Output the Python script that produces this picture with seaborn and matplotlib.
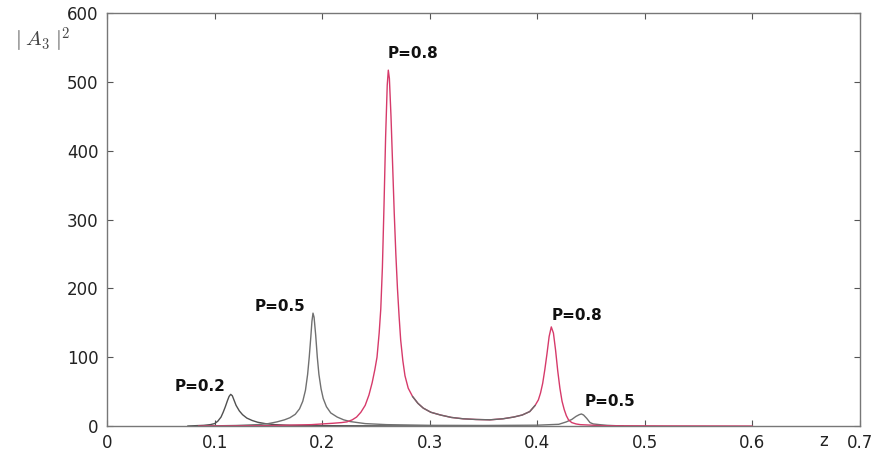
import matplotlib
matplotlib.use("Agg")
import matplotlib.pyplot as plt
import pandas as pd
import seaborn as sns
from matplotlib.ticker import FuncFormatter

# |A3|^2 along z for three pump levels P
z_p02 = [0.075, 0.090, 0.096, 0.100, 0.103, 0.106, 0.108, 0.110, 0.112, 0.1135,
         0.115, 0.1165, 0.118, 0.120, 0.123, 0.126, 0.130, 0.135, 0.140, 0.147,
         0.156, 0.170, 0.190, 0.220, 0.260, 0.310]
a_p02 = [0, 1, 2, 3.5, 7, 13, 20, 28, 37, 43,
         46, 44, 38, 30, 22, 16.5, 11.5, 8, 5.5, 3.5,
         2, 1, 0.6, 0.4, 0.2, 0]

z_p05 = [0.090, 0.120, 0.140, 0.150, 0.158, 0.165, 0.170, 0.175, 0.179, 0.182,
         0.1845, 0.1865, 0.188, 0.1895, 0.1905, 0.1915, 0.1925, 0.194, 0.1955, 0.197,
         0.199, 0.201, 0.204, 0.208, 0.214, 0.220, 0.226, 0.240, 0.260, 0.300,
         0.350, 0.400, 0.420, 0.427, 0.432, 0.436, 0.439, 0.441, 0.443, 0.446,
         0.449, 0.452, 0.458, 0.465, 0.480]
a_p05 = [0, 0.8, 2, 3.5, 6, 9, 12, 17, 25, 36,
         52, 75, 100, 130, 152, 164, 158, 132, 100, 75,
         54, 40, 28, 19, 13, 9, 6.5, 3.5, 2, 1,
         0.8, 1.2, 2.5, 6, 9.5, 14, 16.5, 17.5, 16, 11,
         5, 3, 2, 1, 0]

z_p08 = [0.085, 0.150, 0.190, 0.210, 0.218, 0.223, 0.228, 0.232, 0.236, 0.240,
         0.2435, 0.2465, 0.249, 0.251, 0.253, 0.2545, 0.256, 0.2575, 0.259, 0.2605,
         0.2615, 0.2625, 0.264, 0.2655, 0.267, 0.2685, 0.270, 0.2715, 0.273, 0.275,
         0.277, 0.280, 0.284, 0.289, 0.294, 0.301, 0.310, 0.320, 0.331, 0.343,
         0.356, 0.368, 0.378, 0.386, 0.393, 0.398, 0.401, 0.403, 0.405, 0.407,
         0.409, 0.411, 0.413, 0.415, 0.417, 0.419, 0.421, 0.423, 0.425, 0.427,
         0.429, 0.432, 0.436, 0.440, 0.460, 0.520, 0.600]
a_p08 = [0, 0.5, 2, 4, 5, 6, 9, 13, 20, 30,
         45, 63, 82, 100, 135, 170, 230, 320, 420, 495,
         517, 505, 450, 380, 310, 250, 200, 160, 125, 95,
         73, 55, 43, 33, 26, 20, 16, 12.5, 10.5, 9.5,
         9, 10.5, 13, 16, 21, 30, 38, 48, 62, 82,
         105, 130, 144, 135, 110, 80, 55, 36, 24, 15,
         9, 5, 3, 2, 0.5, 0.2, 0]

# peak labels: text, z, |A3|^2
label_text = ["P=0.2", "P=0.5", "P=0.8", "P=0.8", "P=0.5"]
label_z = [0.0865, 0.161, 0.2845, 0.437, 0.4676]
label_a = [58, 173, 541, 161, 35]

x_ticks = [0, 0.1, 0.2, 0.3, 0.4, 0.5, 0.6, 0.7]
y_ticks = [0, 100, 200, 300, 400, 500, 600]

sns.set_theme(style="white")
plt.rcParams['font.family'] = ['DejaVu Sans']

fig = plt.figure(figsize=(8.82, 4.55), dpi=100)
ax = fig.add_axes([0.1213, 0.0637, 0.8538, 0.9077])

red = "#d63a6a"
df02 = pd.DataFrame({"z": z_p02, "A": a_p02})
df05 = pd.DataFrame({"z": z_p05, "A": a_p05})
df08 = pd.DataFrame({"z": z_p08, "A": a_p08})

sns.lineplot(data=df02, x="z", y="A", color="#505050", lw=1.0, ax=ax)
sns.lineplot(data=df05, x="z", y="A", color="#707070", lw=1.0, ax=ax)
sns.lineplot(data=df08, x="z", y="A", color=red, lw=1.0, ax=ax)
# the low plateau between the two P=0.8 peaks renders grey
flat = df08[(df08["z"] >= 0.284) & (df08["z"] <= 0.398)]
sns.lineplot(data=flat, x="z", y="A", color="#6a6a6a", lw=1.0, ax=ax)

for t, zx, ay in zip(label_text, label_z, label_a):
    ax.text(zx, ay, t, ha="center", va="center", fontsize=11,
            fontweight="bold", color="#111111")

ax.set_xlim(0, 0.7)
ax.set_ylim(0, 600)
ax.set_xticks(x_ticks)
ax.set_yticks(y_ticks)
ax.xaxis.set_major_formatter(FuncFormatter(lambda v, p: "0" if abs(v) < 1e-9 else f"{v:.1f}"))
ax.set_xlabel("")
ax.set_ylabel("")
ax.tick_params(direction="in", bottom=True, left=True, top=True, right=True,
               length=4, width=0.8, color="#555555", labelsize=12,
               labelcolor="#222222", pad=6)
for s in ax.spines.values():
    s.set_color("#777777")
    s.set_linewidth(1.0)

ax.text(0.951, -0.036, "z", transform=ax.transAxes, ha="center", va="center",
        fontsize=12, color="#222222")
fig.text(0.048, 0.912, r"$|\;A_3\;|^2$", ha="center", va="center",
         fontsize=15, color="#444444", math_fontfamily="cm")

fig.savefig("out.png", dpi=100, facecolor="white")
